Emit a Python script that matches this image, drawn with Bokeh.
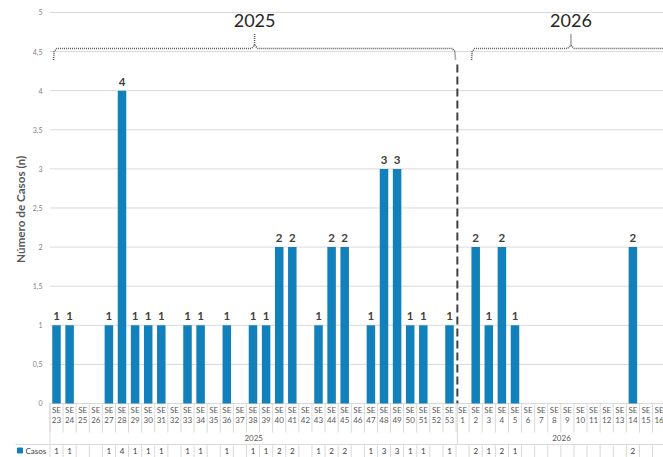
from math import pi
from bokeh.plotting import figure
from bokeh.models import Range1d, ColumnDataSource
from bokeh.core.properties import value
from bokeh.embed import file_html
from bokeh.resources import INLINE

# ---------------- data ----------------
weeks_2025 = [23, 24, 25, 26, 27, 28, 29, 30, 31, 32, 33, 34, 35, 36, 37, 38,
              39, 40, 41, 42, 43, 44, 45, 46, 47, 48, 49, 50, 51, 52, 53]
casos_2025 = [1, 1, 0, 0, 1, 4, 1, 1, 1, 0, 1, 1, 0, 1, 0, 1,
              1, 2, 2, 0, 1, 2, 2, 0, 1, 3, 3, 1, 1, 0, 1]
weeks_2026 = [1, 2, 3, 4, 5, 6, 7, 8, 9, 10, 11, 12, 13, 14, 15, 16]
casos_2026 = [0, 2, 1, 2, 1, 0, 0, 0, 0, 0, 0, 0, 0, 2, 0, 0]
years = ["2025", "2026"]
y_ticks = [0, 0.5, 1, 1.5, 2, 2.5, 3, 3.5, 4, 4.5, 5]
y_title = "Número de  Casos (n)"
series_name = "Casos"

# ---------------- layout constants ----------------
FONT = "Lato"
BAR_COLOR = "#1180BB"
GRID = "#d9d9d9"
n25 = len(weeks_2025)
weeks = weeks_2025 + weeks_2026
casos = casos_2025 + casos_2026
idx = list(range(len(weeks)))

Y_SE = -0.077
Y_NUM = -0.217
Y_SEP = -0.371
Y_YEAR = -0.435
Y_TAB = -0.524
Y_VAL = -0.601
Y_BOT = -0.6905
BOUND = n25 - 0.4  # year boundary

p = figure(width=663, height=457,
           x_range=Range1d(-4.275, 46.336), y_range=Range1d(Y_BOT, 5.153),
           output_backend="svg", toolbar_location=None, min_border=0)
p.axis.visible = False
p.grid.visible = False
p.outline_line_color = None
p.background_fill_color = "white"

# gridlines
p.segment(x0=[-0.5] * len(y_ticks), x1=[46.4] * len(y_ticks), y0=y_ticks, y1=y_ticks,
          line_color=GRID, line_width=1)
# y tick labels
p.text(x=[-1.07] * len(y_ticks), y=y_ticks,
       text=[("%g" % t).replace(".", ",") for t in y_ticks],
       text_align="right", text_baseline="middle", text_font=value(FONT),
       text_font_size="7px", text_color="#7f7f7f")
# y title
p.text(x=[-2.75], y=[2.5], text=[y_title], angle=pi / 2,
       text_align="center", text_baseline="middle", text_font=value(FONT),
       text_font_size="11.7px", text_font_style="bold", text_color="#595959")

# bars
bar_x = [i for i, v in zip(idx, casos) if v > 0]
bar_y = [v for v in casos if v > 0]
src = ColumnDataSource(dict(x=bar_x, y=bar_y))
p.vbar(x="x", top="y", width=0.65, bottom=0, source=src,
       fill_color=BAR_COLOR, line_color=None)
p.text(x=bar_x, y=bar_y, text=[str(v) for v in bar_y], y_offset=-5,
       text_align="center", text_baseline="bottom", text_font=value(FONT),
       text_font_size="11.5px", text_font_style="bold", text_color="#404040")

# dashed year separator
p.line(x=[BOUND, BOUND], y=[4.335, 0], line_color="#404040", line_width=2,
       line_dash="8 4")

# braces
def brace(x0, xc, x1, yb=4.54, yt=4.73):
    left = [x0, x0 + 0.05, x0 + 0.25, xc - 0.25, xc, xc]
    ly = [yb - 0.15, yb - 0.04, yb, yb, yb + 0.04, yt]
    right = [xc, xc + 0.25, x1 - 0.25, x1 - 0.05, x1]
    ry = [yb + 0.04, yb, yb, yb - 0.04, yb - 0.15]
    return [left, right], [ly, ry]

bx, by = brace(-0.23, 15.12, 30.46)
bx2, by2 = brace(31.68, 39.27, 46.86)
p.multi_line(xs=bx + bx2, ys=by + by2, line_color="#595959", line_width=1.6,
             line_dash="1 1")
p.text(x=[15.12, 39.27], y=[4.9, 4.9], text=years, text_align="center",
       text_baseline="middle", text_font=value(FONT), text_font_size="18px",
       text_color="#262626")

# category axis area
seps = [i - 0.5 for i in range(len(weeks) + 1)]
p.segment(x0=seps, x1=seps, y0=[0] * len(seps), y1=[Y_SEP] * len(seps),
          line_color=GRID, line_width=1)
p.segment(x0=seps, x1=seps, y0=[Y_TAB] * len(seps), y1=[Y_BOT] * len(seps),
          line_color=GRID, line_width=1)
p.segment(x0=[-0.5, BOUND], x1=[-0.5, BOUND], y0=[0, 0], y1=[Y_TAB, Y_TAB],
          line_color=GRID, line_width=1)
p.segment(x0=[-3.13], x1=[46.4], y0=[Y_TAB], y1=[Y_TAB], line_color=GRID,
          line_width=1)
p.text(x=idx, y=[Y_SE] * len(idx), text=["SE"] * len(idx), text_align="center",
       text_baseline="middle", text_font=value(FONT), text_font_size="8px",
       text_color="#595959")
p.text(x=idx, y=[Y_NUM] * len(idx), text=[str(w) for w in weeks],
       text_align="center", text_baseline="middle", text_font=value(FONT),
       text_font_size="8px", text_color="#595959")
p.text(x=[(-0.5 + BOUND) / 2, 38.55], y=[Y_YEAR, Y_YEAR], text=years,
       text_align="center", text_baseline="middle", text_font=value(FONT),
       text_font_size="8px", text_color="#595959")

# data table row
p.scatter(x=[-2.79], y=[Y_VAL], marker="square", size=5, fill_color=BAR_COLOR,
          line_color=BAR_COLOR)
p.text(x=[-2.37], y=[Y_VAL], text=[series_name], text_align="left",
       text_baseline="middle", text_font=value(FONT), text_font_size="8px",
       text_color="#404040")
p.text(x=bar_x, y=[Y_VAL] * len(bar_x), text=[str(v) for v in bar_y],
       text_align="center", text_baseline="middle", text_font=value(FONT),
       text_font_size="8px", text_color="#404040")

open("out.html", "w").write(file_html(p, INLINE))
